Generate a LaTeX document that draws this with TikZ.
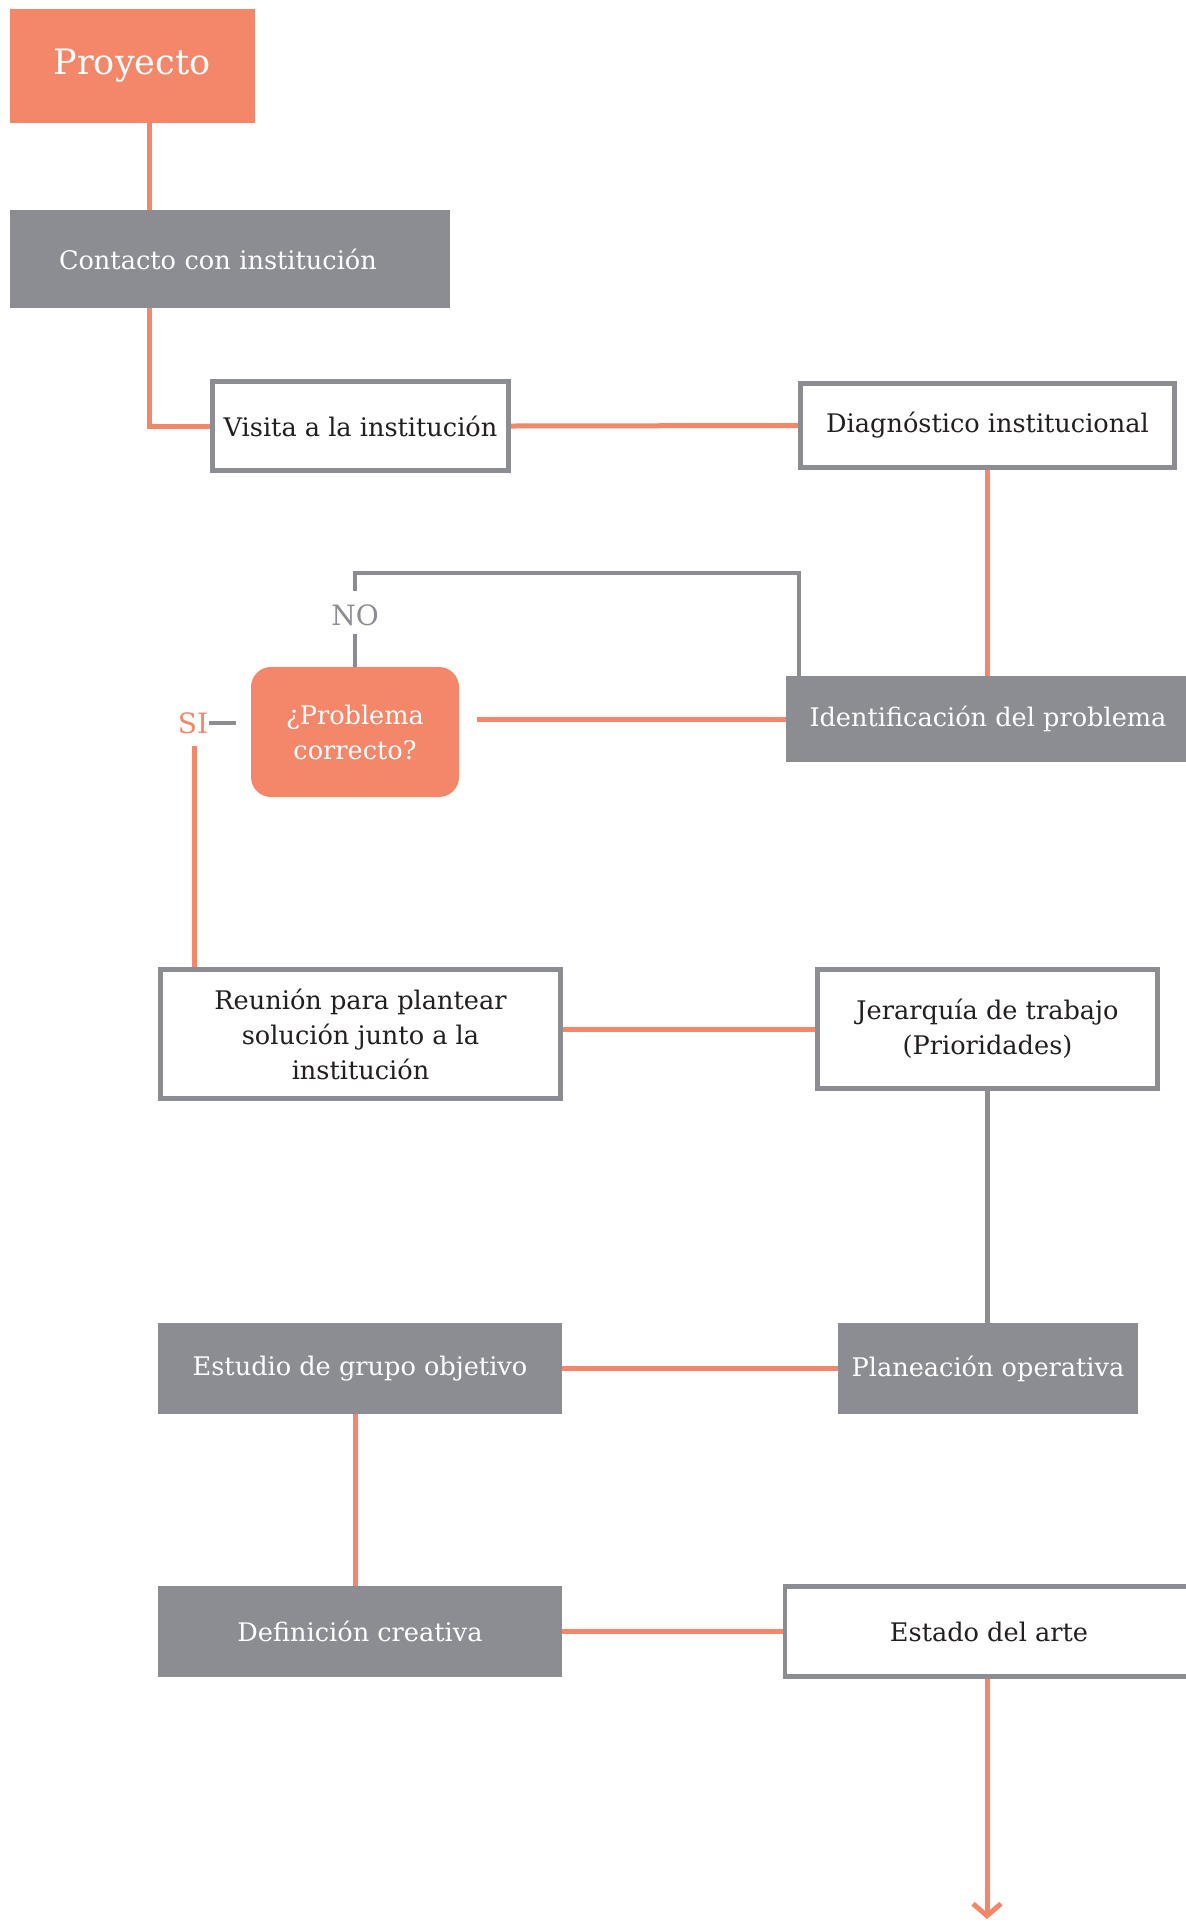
\documentclass[tikz,border=0pt]{standalone}
\usepackage{fontspec}
\setmainfont{DejaVu Serif}
\usetikzlibrary{arrows.meta, calc, backgrounds}
\definecolor{MyOrange}{HTML}{F4876A}
\definecolor{MyGray}{HTML}{8C8D92}
\definecolor{MyInk}{HTML}{231F20}

\begin{document}
\begin{tikzpicture}[x=0.5pt, y=-0.5pt,
			every node/.style={font=\fontsize{12.8}{17.5}\selectfont, align=center, inner sep=0pt},
			naranja/.style={rectangle, fill=MyOrange, text=white},
			gris/.style={rectangle, fill=MyGray, text=white},
			marco/.style={rectangle, draw=MyGray, line width=2.4pt, fill=white, text=MyInk},
			lineaN/.style={draw=MyOrange, line width=2.5pt},
			lineaG/.style={draw=MyGray, line width=2.2pt}
		]
			\useasboundingbox (0,0) rectangle (1186,1923);

			\node (proyecto) [naranja, minimum width=122.5pt, minimum height=57pt, font=\fontsize{17.5}{20}\selectfont] at (132,66) {Proyecto};
			\node (contacto) [gris, minimum width=220pt, minimum height=49pt, text width=171pt, align=left] at (230,259) {Contacto con institución};
			\node (visita) [marco, minimum width=148pt, minimum height=44.5pt] at (360.5,426) {Visita a la institución};
			\node (diag) [marco, minimum width=187pt, minimum height=42pt] at (987.5,425.5) {Diagnóstico institucional};
			\node (ident) [gris, minimum width=202pt, minimum height=43pt] at (988,719) {Identificación del problema};
			\node (pregunta) [naranja, rounded corners=10pt, minimum width=104pt, minimum height=65pt] at (355,732) {¿Problema\\correcto?};
			\node (no) [text=MyGray, font=\fontsize{14}{16}\selectfont] at (355,615) {NO};
			\node (si) [text=MyOrange, font=\fontsize{14}{16}\selectfont] at (193,723) {SI};
			\node (reunion) [marco, minimum width=200pt, minimum height=64.5pt] at (360.5,1034) {Reunión para plantear\\solución junto a la\\institución};
			\node (jerarquia) [marco, minimum width=170pt, minimum height=59.5pt] at (987.5,1029) {Jerarquía de trabajo\\(Prioridades)};
			\node (estudio) [gris, minimum width=202pt, minimum height=45.5pt] at (360,1368.5) {Estudio de grupo objetivo};
			\node (planeacion) [gris, minimum width=150pt, minimum height=45.5pt] at (988,1368.5) {Planeación operativa};
			\node (definicion) [gris, minimum width=202pt, minimum height=45.5pt] at (360,1631.5) {Definición creativa};
			\node (estado) [marco, minimum width=204pt, minimum height=45pt] at (989,1631.5) {Estado del arte};

			\coordinate (k1) at (149,0);
			\coordinate (k2) at (799,573);
			\coordinate (fin) at (987,1919);

			\begin{scope}[on background layer]
				\draw[lineaN] (proyecto.south -| k1) -- (contacto.north -| k1);
				\draw[lineaN] (contacto.south -| k1) |- (visita.west);
				\draw[lineaN] (visita.east) -- (diag.west);
				\draw[lineaN] (diag.south) -- (diag.south |- ident.north);
				\draw[lineaG] (ident.north -| k2) -- (k2) -| ($(no.north)+(0,-13)$);
				\draw[lineaG] ($(no.south)+(0,8)$) -- (pregunta.north);
				\draw[lineaN] (ident.west) -- ($(ident.west -| pregunta.east)+(18,0)$);
				\draw[lineaG] (si.east) -- ($(si.east -| pregunta.west)+(-15,0)$);
				\draw[lineaN] ($(si.south)+(1,12)$) -- (reunion.north -| 194,0);
				\draw[lineaN] (jerarquia.west -| reunion.east) -- (jerarquia.west);
				\draw[lineaG] (jerarquia.south) -- (jerarquia.south |- planeacion.north);
				\draw[lineaN] (estudio.east) -- (planeacion.west);
				\draw[lineaN] (estudio.south -| 355,0) -- (definicion.north -| 355,0);
				\draw[lineaN] (definicion.east) -- (estado.west);
				\draw[lineaN, -{Straight Barb[length=6pt, width=14pt, line width=2.5pt]}] (estado.south -| fin) -- (fin);
			\end{scope}
		\end{tikzpicture}
\end{document}
